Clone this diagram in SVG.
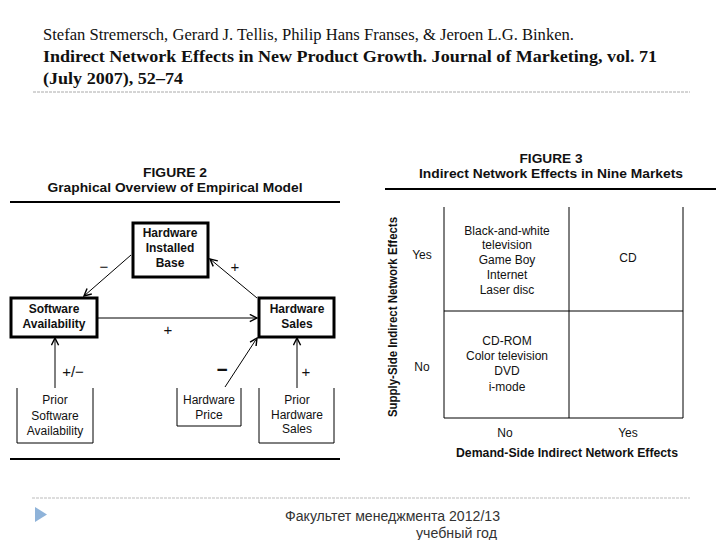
<svg xmlns="http://www.w3.org/2000/svg" width="720" height="540" viewBox="0 0 720 540">
<style>
.hdr{font-family:"Liberation Serif","Times New Roman",serif;font-size:17px;fill:#111}
.b{font-weight:bold}
.s{font-family:"Liberation Sans",Arial,sans-serif;fill:#111}
.t{font-size:12px;font-weight:bold}
.bx{font-size:12px;font-weight:bold}
.rg{font-size:12px}
.foot{font-family:"Liberation Sans",Arial,sans-serif;font-size:14px;fill:#333}
.thick{fill:#fff;stroke:#000;stroke-width:3}
.open{fill:none;stroke:#000;stroke-width:1}
.ln{stroke:#000;stroke-width:1;fill:none}
.rule{stroke:#000;stroke-width:2}
</style>
<defs>
<marker id="ah" viewBox="0 0 10 10" refX="9" refY="5" markerWidth="9" markerHeight="9" orient="auto" markerUnits="userSpaceOnUse">
<path d="M1,1 L9,5 L1,9" fill="none" stroke="#000" stroke-width="1.6"/>
</marker>
</defs>
<rect width="720" height="540" fill="#fff"/>
<!-- header -->
<g id="header">
<text class="hdr" x="43" y="40" textLength="531" lengthAdjust="spacingAndGlyphs">Stefan Stremersch, Gerard J. Tellis, Philip Hans Franses, &amp; Jeroen L.G. Binken.</text>
<text class="hdr b" x="43" y="62" textLength="614" lengthAdjust="spacingAndGlyphs">Indirect Network Effects in New Product Growth. Journal of Marketing, vol. 71</text>
<text class="hdr b" x="43" y="84" textLength="140" lengthAdjust="spacingAndGlyphs">(July 2007), 52–74</text>
<line x1="33" y1="92" x2="690" y2="92" stroke="#aaa" stroke-width="1" stroke-dasharray="3,1"/>
</g>
<!-- Figure 2 -->
<g id="fig2-title" class="s">
<text class="t" x="175" y="177" text-anchor="middle" textLength="64" lengthAdjust="spacingAndGlyphs">FIGURE 2</text>
<text class="t" x="175" y="192" text-anchor="middle" textLength="255" lengthAdjust="spacingAndGlyphs">Graphical Overview of Empirical Model</text>
<line class="rule" x1="10" y1="202" x2="340" y2="202"/>
<line class="rule" x1="10" y1="459" x2="340" y2="459"/>
</g>
<g id="connectors">
<line class="ln" x1="131" y1="255" x2="84" y2="296" marker-end="url(#ah)"/>
<line class="ln" x1="257" y1="298" x2="210" y2="259" marker-end="url(#ah)"/>
<line class="ln" x1="98" y1="318" x2="257" y2="318" marker-end="url(#ah)"/>
<line class="ln" x1="55" y1="388" x2="55" y2="338" marker-end="url(#ah)"/>
<line class="ln" x1="225" y1="387" x2="257" y2="338" marker-end="url(#ah)"/>
<line class="ln" x1="297" y1="388" x2="297" y2="338" marker-end="url(#ah)"/>
<g class="s">
<text x="104" y="272" font-size="15" text-anchor="middle">−</text>
<text x="235" y="272" font-size="15" text-anchor="middle">+</text>
<text x="168" y="335" font-size="15" text-anchor="middle">+</text>
<text x="73" y="377" font-size="15" text-anchor="middle">+/−</text>
<text x="222" y="376" font-size="19" font-weight="bold" text-anchor="middle">−</text>
<text x="306" y="377" font-size="15" text-anchor="middle">+</text>
</g>
</g>
<g id="hw-installed-base" class="s">
<rect class="thick" x="133" y="223" width="75" height="54"/>
<text class="bx" x="170" y="237" text-anchor="middle">Hardware</text>
<text class="bx" x="170" y="252" text-anchor="middle">Installed</text>
<text class="bx" x="170" y="267" text-anchor="middle">Base</text>
</g>
<g id="sw-availability" class="s">
<rect class="thick" x="11" y="298" width="86" height="39"/>
<text class="bx" x="54" y="313" text-anchor="middle">Software</text>
<text class="bx" x="54" y="328" text-anchor="middle">Availability</text>
</g>
<g id="hw-sales" class="s">
<rect class="thick" x="259" y="298" width="75" height="39"/>
<text class="bx" x="297" y="313" text-anchor="middle">Hardware</text>
<text class="bx" x="297" y="328" text-anchor="middle">Sales</text>
</g>
<g id="prior-sw" class="s">
<path class="open" d="M17,388 V443 H93 V388"/>
<text class="rg" x="55" y="404" text-anchor="middle">Prior</text>
<text class="rg" x="55" y="420" text-anchor="middle">Software</text>
<text class="rg" x="55" y="435" text-anchor="middle">Availability</text>
</g>
<g id="hw-price" class="s">
<path class="open" d="M177,388 V426 H241 V388"/>
<text class="rg" x="209" y="404" text-anchor="middle">Hardware</text>
<text class="rg" x="209" y="419" text-anchor="middle">Price</text>
</g>
<g id="prior-hw" class="s">
<path class="open" d="M259,388 V443 H334 V388"/>
<text class="rg" x="297" y="404" text-anchor="middle">Prior</text>
<text class="rg" x="297" y="419" text-anchor="middle">Hardware</text>
<text class="rg" x="297" y="433" text-anchor="middle">Sales</text>
</g>
<!-- Figure 3 -->
<g id="fig3" class="s">
<text class="t" x="551" y="163" text-anchor="middle" textLength="63" lengthAdjust="spacingAndGlyphs">FIGURE 3</text>
<text class="t" x="551" y="178" text-anchor="middle" textLength="264" lengthAdjust="spacingAndGlyphs">Indirect Network Effects in Nine Markets</text>
<line class="rule" x1="385" y1="189" x2="716" y2="189" stroke-width="1.5"/>
<g class="ln">
<line x1="444" y1="207" x2="444" y2="418"/>
<line x1="569" y1="207" x2="569" y2="418"/>
<line x1="683" y1="207" x2="683" y2="418"/>
<line x1="444" y1="311" x2="683" y2="311"/>
<line x1="444" y1="418" x2="683" y2="418"/>
</g>
<text class="bx" transform="translate(397,317) rotate(-90)" text-anchor="middle" textLength="200" lengthAdjust="spacingAndGlyphs">Supply-Side Indirect Network Effects</text>
<text class="rg" x="422" y="259" text-anchor="middle">Yes</text>
<text class="rg" x="422" y="371" text-anchor="middle">No</text>
<text class="rg" x="507" y="235" text-anchor="middle">Black-and-white</text>
<text class="rg" x="507" y="249" text-anchor="middle">television</text>
<text class="rg" x="507" y="264" text-anchor="middle">Game Boy</text>
<text class="rg" x="507" y="279" text-anchor="middle">Internet</text>
<text class="rg" x="507" y="294" text-anchor="middle">Laser disc</text>
<text class="rg" x="628" y="262" text-anchor="middle">CD</text>
<text class="rg" x="507" y="345" text-anchor="middle">CD-ROM</text>
<text class="rg" x="507" y="360" text-anchor="middle">Color television</text>
<text class="rg" x="507" y="375" text-anchor="middle">DVD</text>
<text class="rg" x="507" y="391" text-anchor="middle">i-mode</text>
<text class="rg" x="505" y="437" text-anchor="middle">No</text>
<text class="rg" x="628" y="437" text-anchor="middle">Yes</text>
<text class="bx" x="567" y="457" text-anchor="middle" textLength="222" lengthAdjust="spacingAndGlyphs">Demand-Side Indirect Network Effects</text>
</g>
<!-- footer -->
<g id="footer">
<line x1="32" y1="498" x2="690" y2="498" stroke="#bbb" stroke-width="1" stroke-dasharray="3,1"/>
<path d="M35,507 L47,514.5 L35,522 Z" fill="#8fb3d9"/>
<text class="foot" x="285" y="521" textLength="215" lengthAdjust="spacingAndGlyphs">Факультет менеджмента 2012/13</text>
<text class="foot" x="416" y="538" textLength="81" lengthAdjust="spacingAndGlyphs">учебный год</text>
</g>
</svg>
